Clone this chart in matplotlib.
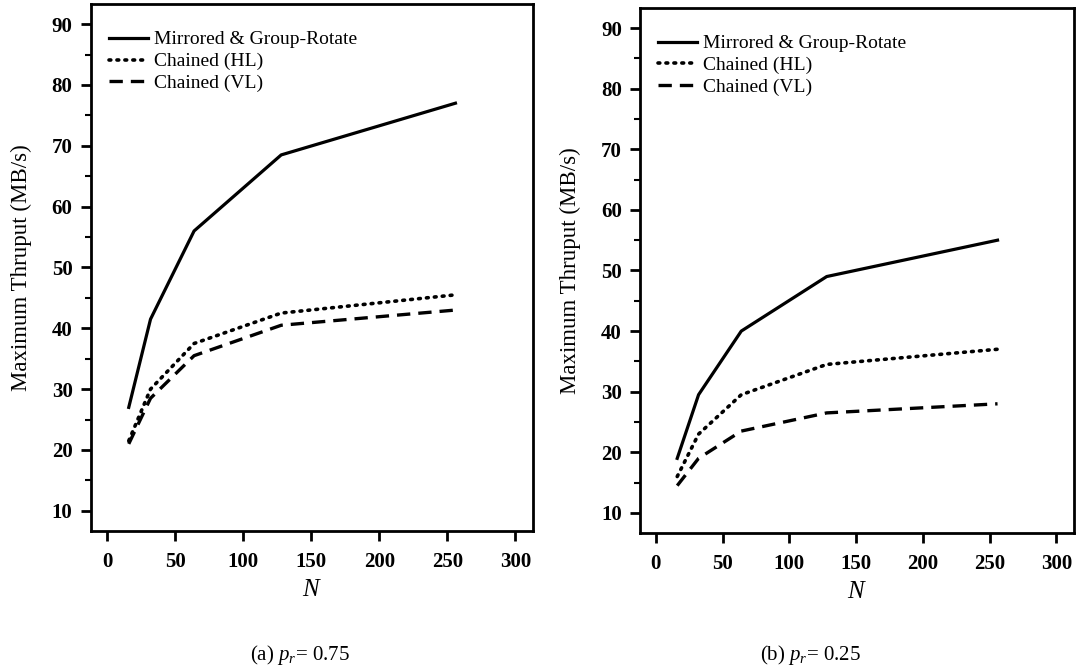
import matplotlib
matplotlib.use('Agg')
from matplotlib import pyplot as plt
from matplotlib.ticker import MultipleLocator

plt.rcParams.update({
  'font.family': ['Liberation Serif', 'DejaVu Serif'],
  'mathtext.fontset': 'custom',
  'mathtext.it': 'Liberation Serif:italic',
  'mathtext.rm': 'Liberation Serif',
})

n_values = [16, 32, 64, 128, 256]

# (a) p_r = 0.75
mirrored_a = [27.0, 41.5, 56.0, 68.5, 77.0]
chained_hl_a = [21.5, 30.0, 37.5, 42.5, 45.5]
chained_vl_a = [21.0, 28.5, 35.5, 40.5, 43.0]

# (b) p_r = 0.25
mirrored_b = [19.0, 29.5, 40.0, 49.0, 55.0]
chained_hl_b = [16.0, 23.0, 29.5, 34.5, 37.0]
chained_vl_b = [14.5, 19.0, 23.5, 26.5, 28.0]

legend_names = ['Mirrored & Group-Rotate', 'Chained (HL)', 'Chained (VL)']
captions = ['(a) $p_r$= 0.75', '(b) $p_r$= 0.25']

fig = plt.figure(figsize=(10.79, 6.72), dpi=100)
ax_a = fig.add_axes([0.084, 0.210, 0.410, 0.784])
ax_b = fig.add_axes([0.593, 0.207, 0.402, 0.781])

panels = [
  (ax_a, mirrored_a, chained_hl_a, chained_vl_a),
  (ax_b, mirrored_b, chained_hl_b, chained_vl_b),
]

for i, (ax, m, hl, vl) in enumerate(panels):
  ax.plot(n_values, m, color='black', lw=2.3, ls='-', label=legend_names[0])
  ax.plot(n_values, hl, color='black', lw=2.6, ls=(0, (0.5, 1.7)),
          dash_capstyle='round', label=legend_names[1])
  ax.plot(n_values, vl, color='black', lw=2.4, ls=(0, (4, 2.4)), label=legend_names[2])

  ax.set_xlim(-12, 313)
  ax.set_ylim(6.7, 93.3)
  ax.xaxis.set_major_locator(MultipleLocator(50))
  ax.yaxis.set_minor_locator(MultipleLocator(5))
  ax.set_yticks([10, 20, 30, 40, 50, 60, 70, 80, 90])
  ax.tick_params(axis='both', which='major', direction='out', length=7, width=2,
                 labelsize=15)
  ax.tick_params(axis='x', which='major', pad=8)
  ax.tick_params(axis='y', which='major', pad=6)
  ax.tick_params(axis='y', which='minor', direction='out', length=4, width=1.5)
  for lbl in ax.get_xticklabels() + ax.get_yticklabels():
    lbl.set_fontweight('bold')
  for s in ax.spines.values():
    s.set_linewidth(2)

  ax.set_xlabel('$N$', fontsize=18, labelpad=5)
  ax.set_ylabel('Maximum Thruput (MB/s)', fontsize=16.5, labelpad=14)
  ax.legend(loc='upper left', frameon=False, fontsize=14, handlelength=2.0,
            handletextpad=0.35, labelspacing=0.22, borderaxespad=0.3,
            bbox_to_anchor=(0.01, 0.975))

fig.text(0.278, 0.018, captions[0], ha='center', fontsize=15)
fig.text(0.751, 0.018, captions[1], ha='center', fontsize=15)

fig.savefig('out.png', dpi=100)
